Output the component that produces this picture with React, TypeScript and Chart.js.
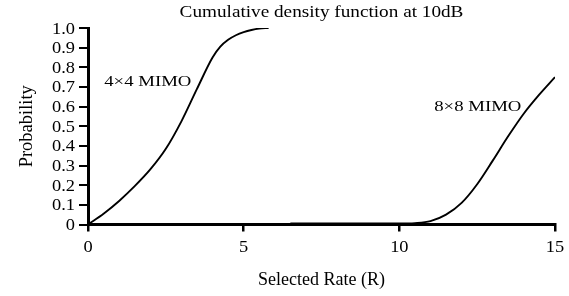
import React, { useEffect, useRef } from "react";
import { Chart, registerables } from "chart.js";

Chart.register(...registerables);

const titleText = "Cumulative density function at 10dB";
const xAxisLabel = "Selected Rate (R)";
const yAxisLabel = "Probability";

const mimo4x4X = [0, 0.5, 1, 1.5, 2, 2.5, 3, 3.5, 4, 4.25, 4.5, 4.75, 5, 5.25, 5.5, 5.8];
const mimo4x4Y = [0, 0.055, 0.12, 0.195, 0.28, 0.385, 0.525, 0.69, 0.85, 0.905, 0.94, 0.963, 0.979, 0.99, 0.997, 1.0];

const mimo8x8X = [6.5, 8, 10, 10.5, 11, 11.5, 12, 12.5, 13, 13.5, 14, 14.5, 15];
const mimo8x8Y = [0.005, 0.005, 0.005, 0.007, 0.017, 0.05, 0.11, 0.205, 0.325, 0.45, 0.565, 0.662, 0.75];

const labelTexts = ["4×4 MIMO", "8×8 MIMO"];
const labelX = [0.52, 11.12];
const labelY = [0.703, 0.578];

const FONT = "'Liberation Serif', 'Times New Roman', serif";

function drawText(
  ctx: CanvasRenderingContext2D,
  text: string,
  x: number,
  y: number,
  align: CanvasTextAlign,
  size: number,
  sx: number,
  rot = 0
) {
  ctx.save();
  ctx.translate(x, y);
  if (rot) ctx.rotate(rot);
  ctx.scale(sx, 1);
  ctx.font = `${size}px ${FONT}`;
  ctx.fillStyle = "#000";
  ctx.textAlign = align;
  ctx.textBaseline = "alphabetic";
  ctx.fillText(text, 0, 0);
  ctx.restore();
}

const fmtY = (v: number) => (Math.abs(v) < 1e-9 ? "0" : v.toFixed(1));

const textPlugin = {
  id: "textPlugin",
  afterDraw(chart: any) {
    const { ctx, scales } = chart;
    const xs = scales.x;
    const ys = scales.y;
    drawText(ctx, titleText, (xs.left + xs.right) / 2, 17, "center", 17, 1.13);
    ys.ticks.forEach((t: any) => {
      drawText(ctx, fmtY(t.value), ys.right - 13, ys.getPixelForValue(t.value) + 5.5, "right", 16, 1.15);
    });
    xs.ticks.forEach((t: any) => {
      drawText(ctx, String(t.value), xs.getPixelForValue(t.value), xs.top + 27, "center", 16, 1.15);
    });
    drawText(ctx, xAxisLabel, (xs.left + xs.right) / 2, 285, "center", 18, 1);
    drawText(ctx, yAxisLabel, 32, (ys.top + ys.bottom) / 2, "center", 18.5, 1, -Math.PI / 2);
    labelTexts.forEach((t, i) => {
      drawText(ctx, t, xs.getPixelForValue(labelX[i]), ys.getPixelForValue(labelY[i]), "left", 15.5, 1.21);
    });
  },
};

export default function App() {
  const ref = useRef<HTMLCanvasElement>(null);
  useEffect(() => {
    document.body.style.margin = "0";
    const mk = (xsArr: number[], ysArr: number[], label: string) => ({
      label,
      data: xsArr.map((x, i) => ({ x, y: ysArr[i] })),
      showLine: true,
      borderColor: "#000",
      borderWidth: 1.9,
      pointRadius: 0,
      cubicInterpolationMode: "monotone" as const,
    });
    const c = new Chart(ref.current!, {
      type: "scatter",
      data: {
        datasets: [mk(mimo4x4X, mimo4x4Y, labelTexts[0]), mk(mimo8x8X, mimo8x8Y, labelTexts[1])],
      },
      options: {
        animation: false,
        responsive: false,
        layout: { padding: { left: 0, right: 14, top: 28, bottom: 0 } },
        plugins: {
          legend: { display: false },
          tooltip: { enabled: false },
          title: { display: false },
        },
        scales: {
          x: {
            type: "linear",
            min: 0,
            max: 15,
            afterFit: (s: any) => {
              s.height = 71.5;
            },
            ticks: {
              stepSize: 5,
              color: "rgba(0,0,0,0)",
              font: { family: FONT, size: 16 },
              autoSkip: false,
              maxRotation: 0,
            },
            grid: {
              display: true,
              drawOnChartArea: false,
              drawTicks: true,
              tickLength: 7,
              color: "#000",
              lineWidth: 2.5,
            },
            border: { display: true, color: "#000", width: 3 },
            title: { display: false },
          },
          y: {
            type: "linear",
            min: 0,
            max: 1,
            afterFit: (s: any) => {
              s.width = 88;
            },
            ticks: {
              stepSize: 0.1,
              color: "rgba(0,0,0,0)",
              font: { family: FONT, size: 16 },
              autoSkip: false,
              callback: (v: any) => fmtY(Number(v)),
            },
            grid: {
              display: true,
              drawOnChartArea: false,
              drawTicks: true,
              tickLength: 9,
              color: "#000",
              lineWidth: 2,
            },
            border: { display: true, color: "#000", width: 3 },
            title: { display: false },
          },
        },
      },
      plugins: [textPlugin],
    });
    return () => c.destroy();
  }, []);
  return <canvas ref={ref} width={569} height={296} style={{ display: "block" }} />;
}
